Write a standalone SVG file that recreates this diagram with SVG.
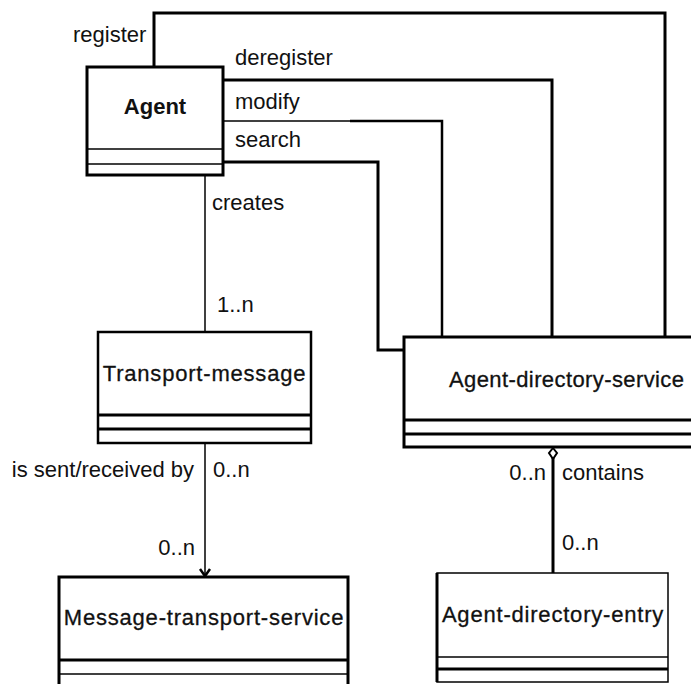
<svg xmlns="http://www.w3.org/2000/svg" width="691" height="684" viewBox="0 0 691 684">
  <style>
    .box { fill: #fff; stroke: #000; stroke-width: 3; }
    .thin { fill: #fff; stroke: #000; stroke-width: 1.5; }
    .sep { stroke: #000; stroke-width: 1.5; }
    .sepb { stroke: #000; stroke-width: 3; }
    .title { font-family: "Liberation Sans", Arial, sans-serif; font-size: 22px; fill: #111; stroke: #111; stroke-width: 0.3; letter-spacing: 0.8px; }
    .title-strong { font-family: "Liberation Sans", Arial, sans-serif; font-size: 22px; font-weight: bold; fill: #111; }
    .lbl { font-family: "Liberation Sans", Arial, sans-serif; font-size: 22px; fill: #111; }
    .wire { fill: none; stroke: #000; stroke-width: 3; stroke-linejoin: miter; }
    .wire-thin { fill: none; stroke: #000; stroke-width: 1.5; }
  </style>
  <rect width="691" height="684" fill="#fff"/>

  <!-- associations -->
  <g id="connectors">
    <!-- Agent to Agent-directory-service -->
    <polyline class="wire" points="154,67 154,13 665,13 665,337"/>
    <polyline class="wire" points="223,80 552,80 552,337"/>
    <polyline class="wire-thin" points="223,121 350,121"/>
    <polyline class="wire" points="350,121 442,121 442,337" style="stroke-width:2.5"/>
    <polyline class="wire" points="223,162 378,162 378,350 404,350"/>
    <!-- Agent creates Transport-message -->
    <line class="wire-thin" x1="205" y1="175" x2="205" y2="332"/>
    <!-- Transport-message sent/received by Message-transport-service -->
    <line class="wire-thin" x1="205" y1="443" x2="205" y2="575"/>
    <polyline points="200,569 205,576 210,569" fill="none" stroke="#000" stroke-width="2.5"/>
    <!-- Agent-directory-service contains Agent-directory-entry -->
    <line class="wire" x1="553" y1="458" x2="553" y2="573"/>
    <polygon points="553,448 557,453 553,459 549,453" fill="#fff" stroke="#000" stroke-width="2"/>

    <text class="lbl" x="73" y="42">register</text>
    <text class="lbl" x="235" y="65">deregister</text>
    <text class="lbl" x="235" y="109">modify</text>
    <text class="lbl" x="235" y="147">search</text>
    <text class="lbl" x="212" y="210">creates</text>
    <text class="lbl" x="217" y="312">1..n</text>
    <text class="lbl" x="194" y="477" text-anchor="end">is sent/received by</text>
    <text class="lbl" x="213" y="477">0..n</text>
    <text class="lbl" x="195" y="555" text-anchor="end">0..n</text>
    <text class="lbl" x="546" y="480" text-anchor="end">0..n</text>
    <text class="lbl" x="562" y="480">contains</text>
    <text class="lbl" x="562" y="550">0..n</text>
  </g>

  <g id="agent">
    <rect class="box" x="87" y="67" width="136" height="108"/>
    <line class="sep" x1="87" y1="149" x2="223" y2="149"/>
    <line class="sep" x1="87" y1="164" x2="223" y2="164"/>
    <text class="title-strong" x="155" y="114" text-anchor="middle">Agent</text>
  </g>

  <g id="transport-message">
    <rect class="box" x="98" y="332" width="213" height="111" style="stroke-width:2.5"/>
    <line class="sepb" x1="98" y1="415" x2="311" y2="415"/>
    <line class="sepb" x1="98" y1="429" x2="311" y2="429"/>
    <text class="title" x="204.5" y="381" text-anchor="middle">Transport-message</text>
  </g>

  <g id="agent-directory-service">
    <rect class="box" x="404" y="337" width="300" height="110"/>
    <line class="sepb" x1="404" y1="420" x2="704" y2="420"/>
    <line class="sepb" x1="404" y1="434" x2="704" y2="434"/>
    <text class="title" x="449" y="387" style="letter-spacing:0.4px">Agent-directory-service</text>
  </g>

  <g id="message-transport-service">
    <rect class="box" x="59" y="577" width="289" height="120"/>
    <line class="sepb" x1="59" y1="660" x2="348" y2="660"/>
    <line class="sep" x1="59" y1="674" x2="348" y2="674"/>
    <text class="title" x="204" y="625" text-anchor="middle">Message-transport-service</text>
  </g>

  <g id="agent-directory-entry">
    <rect class="thin" x="437" y="573" width="231" height="109"/>
    <line x1="437" y1="573" x2="437" y2="682" stroke="#000" stroke-width="3"/>
    <line class="sep" x1="437" y1="657" x2="668" y2="657"/>
    <line class="sepb" x1="437" y1="669" x2="668" y2="669"/>
    <text class="title" x="553" y="622" text-anchor="middle">Agent-directory-entry</text>
  </g>
</svg>
